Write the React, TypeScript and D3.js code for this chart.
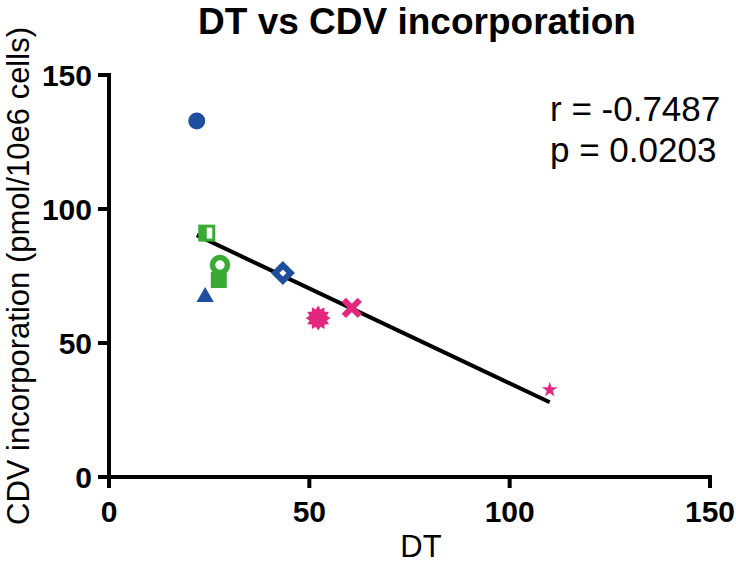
import React from "react";
import * as d3 from "d3";

const dtValues = [21.9, 24.4, 27.7, 27.4, 24.0, 43.4, 52.2, 60.6, 110.0];
const cdvValues = [132.8, 91.0, 79.1, 73.5, 67.2, 76.1, 59.3, 63.1, 32.5];
const markerShapes = ["circle", "halfSquare", "ring", "square", "triangle", "openDiamond", "burst", "cross", "star"];
const markerGroups = ["blue", "green", "green", "green", "blue", "blue", "pink", "pink", "pink"];
const xTicks = [0, 50, 100, 150];
const yTicks = [0, 50, 100, 150];
const statLines = ["r = -0.7487", "p = 0.0203"];

const COLORS: Record<string, string> = { blue: "#1F4E9E", green: "#3AAA35", pink: "#E4277E" };
const FONT = "'Liberation Sans', Arial, Helvetica, sans-serif";

function Marker({ shape, color, cx, cy }: { shape: string; color: string; cx: number; cy: number }) {
  const t = `translate(${cx},${cy})`;
  switch (shape) {
    case "circle":
      return <circle cx={cx} cy={cy} r={8.5} fill={color} />;
    case "halfSquare":
      return (
        <g transform={t}>
          <rect x={-8.5} y={-8.5} width={17} height={17} fill={color} />
          <rect x={0} y={-5.5} width={5.5} height={11} fill="#fff" />
        </g>
      );
    case "ring":
      return <circle cx={cx} cy={cy} r={7.5} fill="none" stroke={color} strokeWidth={5.5} />;
    case "square":
      return <rect x={cx - 8} y={cy - 8} width={16} height={16} fill={color} />;
    case "triangle": {
      const p = d3.symbol(d3.symbolTriangle, 130)();
      return <path d={p || ""} transform={t} fill={color} />;
    }
    case "openDiamond":
      return (
        <rect x={-5.5} y={-5.5} width={11} height={11} fill="#fff" stroke={color} strokeWidth={6}
          transform={`${t} rotate(45)`} />
      );
    case "burst": {
      const n = 12;
      const pts: [number, number][] = [];
      for (let i = 0; i < n * 2; i++) {
        const r = i % 2 === 0 ? 12.5 : 9;
        const a = (Math.PI * i) / n;
        pts.push([r * Math.sin(a), -r * Math.cos(a)]);
      }
      const p = d3.line()(pts) + "Z";
      return <path d={p} transform={t} fill={color} />;
    }
    case "cross":
      return (
        <g transform={t} stroke={color} strokeWidth={6} strokeLinecap="butt">
          <line x1={-8} y1={-8} x2={8} y2={8} />
          <line x1={-8} y1={8} x2={8} y2={-8} />
        </g>
      );
    case "star": {
      const p = d3.symbol(d3.symbolStar, 75)();
      return <path d={p || ""} transform={t} fill={color} />;
    }
    default:
      return null;
  }
}

export default function App() {
  const width = 736;
  const height = 565;
  const x = d3.scaleLinear().domain([0, 150]).range([109, 710]);
  const y = d3.scaleLinear().domain([0, 150]).range([477, 75]);

  const mx = d3.mean(dtValues) as number;
  const my = d3.mean(cdvValues) as number;
  let sxy = 0, sxx = 0;
  dtValues.forEach((v, i) => {
    sxy += (v - mx) * (cdvValues[i] - my);
    sxx += (v - mx) * (v - mx);
  });
  const slope = sxy / sxx;
  const intercept = my - slope * mx;
  const [xmin, xmax] = d3.extent(dtValues) as [number, number];
  const fitLine = d3.line<number>().x((d) => x(d)).y((d) => y(intercept + slope * d))([xmin, xmax]);

  const tickLen = 11;
  const axisW = 4;

  return (
    <svg width={width} height={height} style={{ position: "absolute", left: 0, top: 0, background: "#fff" }}
      fontFamily={FONT}>
      <rect width={width} height={height} fill="#fff" />
      <text x={417} y={34} textAnchor="middle" fontSize={37} fontWeight="bold" fill="#000">
        DT vs CDV incorporation
      </text>

      {/* axes */}
      <line x1={x(0)} x2={x(150)} y1={y(0)} y2={y(0)} stroke="#000" strokeWidth={axisW} strokeLinecap="square" />
      <line x1={x(0)} x2={x(0)} y1={y(0)} y2={y(150)} stroke="#000" strokeWidth={axisW} strokeLinecap="square" />
      {xTicks.map((v) => (
        <g key={"xt" + v}>
          <line x1={x(v)} x2={x(v)} y1={y(0)} y2={y(0) + tickLen} stroke="#000" strokeWidth={axisW} />
          <text x={x(v)} y={522} textAnchor="middle" fontSize={30} fontWeight="bold" fill="#000">{v}</text>
        </g>
      ))}
      {yTicks.map((v) => (
        <g key={"yt" + v}>
          <line x1={x(0) - tickLen} x2={x(0)} y1={y(v)} y2={y(v)} stroke="#000" strokeWidth={axisW} />
          <text x={92} y={y(v)} dy="0.36em" textAnchor="end" fontSize={30} fontWeight="bold" fill="#000">{v}</text>
        </g>
      ))}

      <text x={421} y={557} textAnchor="middle" fontSize={31} fill="#000">DT</text>
      <text transform={`translate(29,${276}) rotate(-90)`} textAnchor="middle" fontSize={31} fill="#000">
        CDV incorporation (pmol/10e6 cells)
      </text>

      {/* fit line */}
      <path d={fitLine || ""} fill="none" stroke="#000" strokeWidth={4} />

      {dtValues.map((v, i) => (
        <Marker key={i} shape={markerShapes[i]} color={COLORS[markerGroups[i]]} cx={x(v)} cy={y(cdvValues[i])} />
      ))}

      {statLines.map((s, i) => (
        <text key={s} x={550} y={121 + i * 41} fontSize={35} fill="#000">{s}</text>
      ))}
    </svg>
  );
}
